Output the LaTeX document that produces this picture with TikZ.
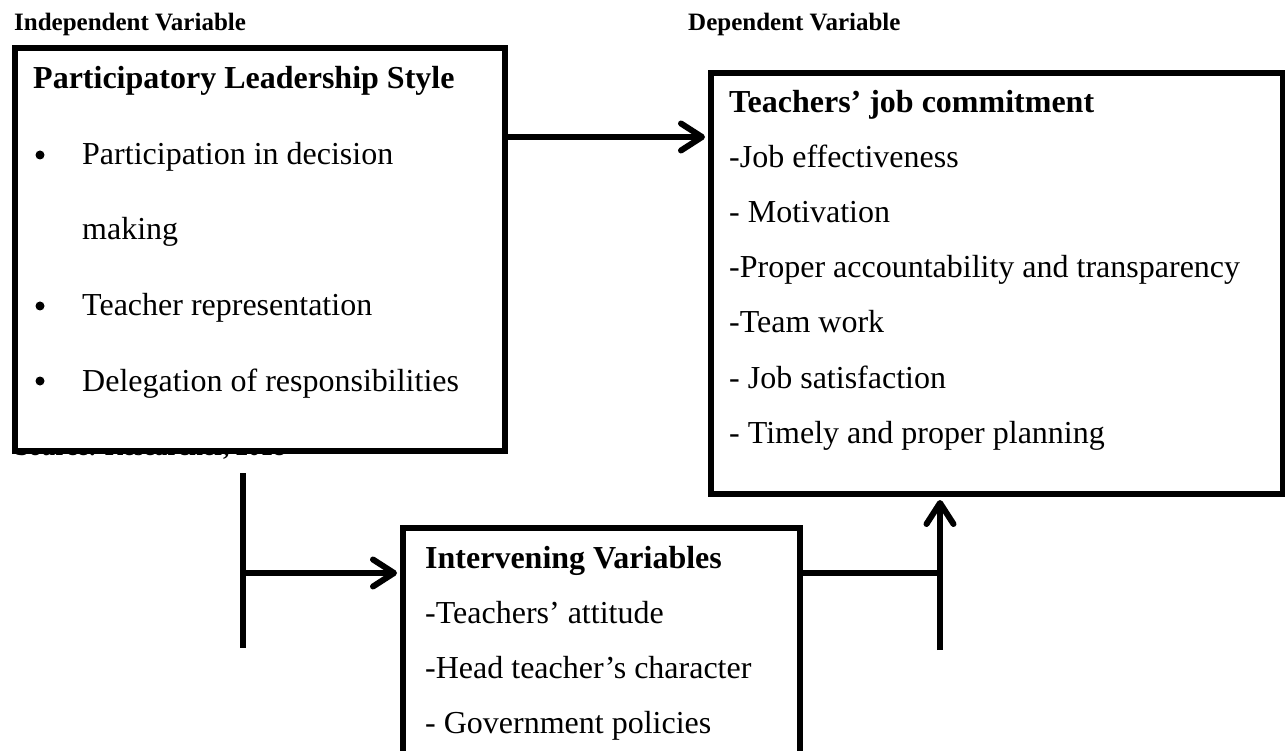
\documentclass[tikz,border=0pt]{standalone}
\usepackage{fontspec}
\setmainfont{Liberation Serif}
\usetikzlibrary{arrows.meta}

\begin{document}
\begin{tikzpicture}[x=1pt,y=-1pt,
  frame/.style={draw=black, line width=6pt, fill=white, inner sep=0pt, anchor=north west},
  conn/.style={line width=6pt},
  arr/.style={conn, -{Straight Barb[length=21pt,width=27pt,round]}, shorten >=3pt},
  body/.style={anchor=base west, inner sep=0pt, font=\fontsize{32}{38}\selectfont},
  head/.style={body, font=\fontsize{32}{38}\selectfont\bfseries},
  caption/.style={anchor=base west, inner sep=0pt, font=\fontsize{25}{30}\selectfont\bfseries},
  dot/.style={circle, fill=black, inner sep=0pt, minimum size=9pt},
]
\useasboundingbox (0,0) rectangle (1285,751);

% column captions and the source line (mostly hidden under the first box)
\node[caption] (indcap) at (14,31) {Independent Variable};
\node[caption] (depcap) at (688,31) {Dependent Variable};
\node[caption] (src) at (15,455) {Source: Researcher, 2018};

% boxes
\node[frame, minimum width=490pt, minimum height=403pt] (ind) at (12,45) {};
\node[frame, minimum width=572pt, minimum height=421pt] (dep) at (708,70) {};
\node[frame, minimum width=397pt, minimum height=228pt] (int) at (400,525) {};

% independent variable box
\node[head] (indt) at (33,89) {Participatory Leadership Style};
\node[dot] (b1) at (40,155) {};
\node[body] (i1) at (82,165) {Participation in decision};
\node[body] (i2) at (82,240) {making};
\node[dot] (b2) at (40,306) {};
\node[body] (i3) at (82,316) {Teacher representation};
\node[dot] (b3) at (40,381) {};
\node[body] (i4) at (82,391) {Delegation of responsibilities};

% dependent variable box
\node[head] (dept) at (729,113) {Teachers’ job commitment};
\node[body] (d1) at (729,168) {-Job effectiveness};
\node[body] (d2) at (729,223) {- Motivation};
\node[body] (d3) at (729,278) {-Proper accountability and transparency};
\node[body] (d4) at (729,333) {-Team work};
\node[body] (d5) at (729,388) {- Job satisfaction};
\node[body] (d6) at (729,443) {- Timely and proper planning};

% intervening variables box
\node[head] (intt) at (425,568) {Intervening Variables};
\node[body] (v1) at (425,623) {-Teachers’ attitude};
\node[body] (v2) at (425,678) {-Head teacher’s character};
\node[body] (v3) at (425,733) {- Government policies};

% connectors
\coordinate (lt) at (243,473);
\coordinate (lb) at (243,648);
\coordinate (lm) at (243,573);
\coordinate (rt) at (940,573);
\coordinate (rb) at (940,650);

\draw[arr] (ind.east |- 0,137) -- (dep.west |- 0,137);
\draw[conn] (lt) -- (lb);
\draw[arr] (lm) -- (int.west |- lm);
\draw[conn] (int.east |- rt) -- (rt);
\draw[arr] (rb) -- (dep.south -| rb);
\end{tikzpicture}
\end{document}
